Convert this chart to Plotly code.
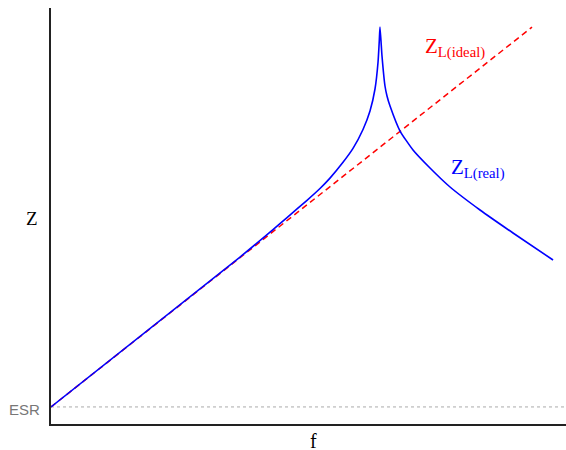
import plotly.graph_objects as go

# Data (arbitrary units: frequency 0..100, impedance 0..100)
esr = 4.1
f_ideal = [0.0, 93.4]
z_ideal = [4.1, 95.4]

f_real = [0.0, 36.70, 43.11, 45.83, 49.71, 52.23, 54.17, 56.70, 58.64, 60.58, 61.94, 62.91,
          63.50, 63.75, 63.88, 64.27, 64.85, 65.24, 65.83, 67.77, 70.29, 73.59, 77.48,
          83.30, 89.71, 97.48]
z_real = [4.09, 40.14, 46.73, 49.62, 53.77, 56.61, 59.11, 62.91, 66.25, 70.79, 75.24, 80.53,
          87.02, 92.31, 95.43, 88.46, 81.25, 78.85, 76.44, 70.43, 65.87, 61.54, 56.97,
          51.44, 45.91, 39.42]

f_esr = [0.0, 102.0]
z_esr = [esr, esr]

fig = go.Figure()
fig.add_trace(go.Scatter(x=f_esr, y=z_esr, mode="lines",
                         line=dict(color="#aaaaaa", width=1, dash="dot"),
                         hoverinfo="skip", showlegend=False))
fig.add_trace(go.Scatter(x=f_ideal, y=z_ideal, mode="lines",
                         line=dict(color="#ff0000", width=1.5, dash="6px,4px"),
                         showlegend=False))
fig.add_trace(go.Scatter(x=f_real, y=z_real, mode="lines",
                         line=dict(color="#0000ff", width=1.6, shape="spline", smoothing=0.5),
                         showlegend=False))

serif = "Liberation Serif, Times New Roman, serif"
fig.add_annotation(x=72.2, y=90.4, xref="x", yref="y", xanchor="left", yanchor="middle",
                   text="Z<sub>L(ideal)</sub>", showarrow=False,
                   font=dict(family=serif, size=21, color="#ff0000"))
fig.add_annotation(x=77.3, y=61.5, xref="x", yref="y", xanchor="left", yanchor="middle",
                   text="Z<sub>L(real)</sub>", showarrow=False,
                   font=dict(family=serif, size=21, color="#0000ff"))
fig.add_annotation(x=0, y=esr, xref="x", yref="y", xanchor="right", yanchor="middle",
                   xshift=-9, yshift=-3, text="ESR", showarrow=False,
                   font=dict(family="Liberation Sans, Arial, sans-serif", size=15, color="#777777"))
fig.add_annotation(x=0, y=50, xref="x", yref="y", xanchor="right", yanchor="middle",
                   xshift=-11, yshift=-2, text="Z", showarrow=False,
                   font=dict(family=serif, size=19, color="#000000"))
fig.add_annotation(x=50, y=0, xref="x", yref="y", xanchor="center", yanchor="top",
                   xshift=5, yshift=-4, text="f", showarrow=False,
                   font=dict(family=serif, size=20, color="#000000"))

fig.update_xaxes(range=[0, 101.55], showgrid=False, zeroline=False, showticklabels=False,
                 ticks="", showline=True, linecolor="#222222", linewidth=2)
fig.update_yaxes(range=[0, 100], showgrid=False, zeroline=False, showticklabels=False,
                 ticks="", showline=True, linecolor="#222222", linewidth=2)
fig.update_layout(width=574, height=450, margin=dict(l=51, r=0, t=8, b=26),
                  plot_bgcolor="white", paper_bgcolor="white")

fig.write_html("out.html", config={"displayModeBar": False},
               post_script="document.body.style.margin='0';document.body.style.overflow='hidden';")
